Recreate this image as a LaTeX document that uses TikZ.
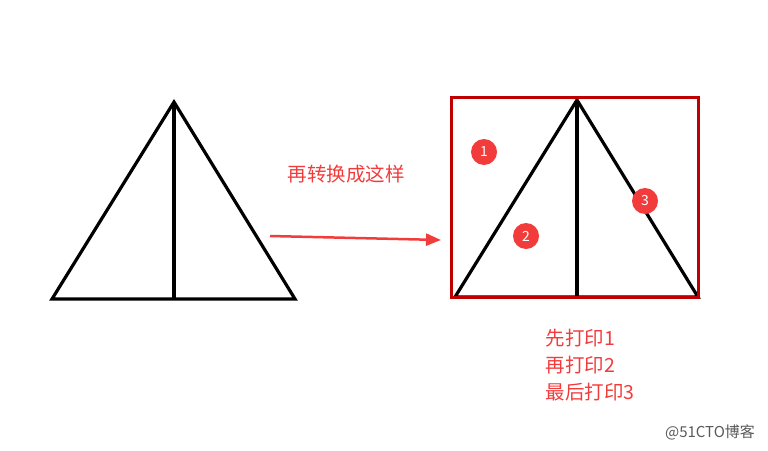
\documentclass[tikz,border=0pt]{standalone}
\usepackage{fontspec}
\setmainfont{Noto Sans CJK SC}
\usetikzlibrary{arrows.meta, positioning, calc}
\definecolor{markred}{HTML}{F23C3C}
\definecolor{boxred}{HTML}{C00000}

\begin{document}
\begin{tikzpicture}[x=1pt, y=-1pt,
    edge/.style={line width=3.2pt, line join=miter},
    badge/.style={circle, fill=markred, text=white, inner sep=0pt, minimum size=26pt, font=\fontsize{14}{16}\selectfont},
    note/.style={text=markred, font=\fontsize{19.5}{27}\selectfont}]
    \useasboundingbox (0,0) rectangle (768,450);

    % left triangle
    \coordinate (a) at (174,102);
    \coordinate (b) at (52,299);
    \coordinate (c) at (295,299);
    \coordinate (m) at (174,299);
    \draw[edge] (a) -- (b) -- (c) -- cycle;
    \draw[edge] (a) -- (m);

    % arrow
    \node[note] (t) at (346,174) {再转换成这样};
    \coordinate (p) at (270,236);
    \coordinate (q) at (441,240);
    \draw[markred, line width=2.5pt, -{Triangle[length=15pt, width=12pt]}] (p) -- (q);

    % right triangle
    \coordinate (u) at (577,100);
    \coordinate (v) at (455,297);
    \coordinate (w) at (698,297);
    \coordinate (n) at (577,297);
    \draw[edge] (u) -- (v) -- (w) -- cycle;
    \draw[edge] (u) -- (n);
    \draw[boxred, line width=3pt] (451,97) rectangle (698,297);

    \node[badge] (one) at (484,152) {1};
    \node[badge] (two) at (526,236) {2};
    \node[badge] (three) at (645,201) {3};

    \node[note, anchor=west, align=left] (order) at (542,365) {先打印1\\再打印2\\最后打印3};

    \node[text=black!65, font=\fontsize{15}{17}\selectfont] (mark) at (710,432) {@51CTO博客};
\end{tikzpicture}
\end{document}
